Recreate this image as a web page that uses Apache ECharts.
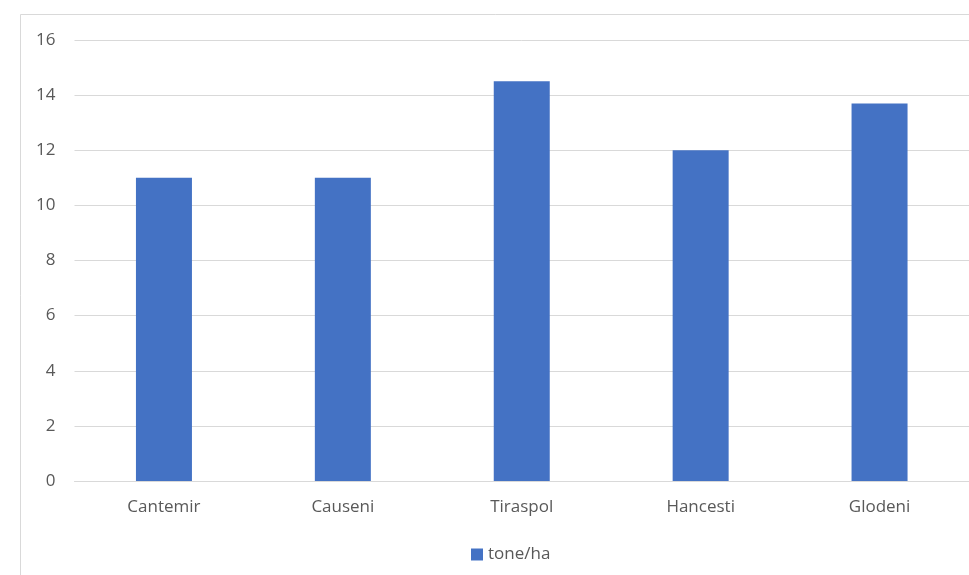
<!DOCTYPE html>
<html>
<head>
<meta charset="utf-8">
<script src="https://cdn.jsdelivr.net/npm/echarts@6/dist/echarts.min.js"></script>
<style>
html,body{margin:0;padding:0;background:#fff;}
#chart{width:969px;height:575px;}
</style>
</head>
<body>
<div id="chart"></div>
<script>
const categories = ["Cantemir", "Causeni", "Tiraspol", "Hancesti", "Glodeni"];
const seriesName = "tone/ha";
const values = [11, 11, 14.5, 12, 13.7];

const chart = echarts.init(document.getElementById('chart'), null, {renderer: 'canvas'});
const textStyle = {fontFamily: 'Open Sans', fontSize: 17, color: '#595959'};
chart.setOption({
  animation: false,
  backgroundColor: '#fff',
  graphic: [{
    type: 'rect',
    shape: {x: 20.5, y: 14.5, width: 1000, height: 600},
    style: {fill: 'none', stroke: '#d9d9d9', lineWidth: 1},
    silent: true, z: -1
  }],
  grid: {left: 74.5, top: 40, width: 898, height: 441, containLabel: false},
  legend: {
    left: 471, top: 546, padding: 0,
    itemWidth: 12, itemHeight: 12, itemGap: 10,
    icon: 'rect',
    textStyle: Object.assign({}, textStyle),
    data: [seriesName]
  },
  xAxis: {
    type: 'category',
    data: categories,
    axisLine: {show: true, lineStyle: {color: '#d9d9d9', width: 1}},
    axisTick: {show: false},
    axisLabel: Object.assign({}, textStyle, {margin: 18})
  },
  yAxis: {
    type: 'value',
    min: 0, max: 16, interval: 2,
    axisLine: {show: false},
    axisTick: {show: false},
    splitLine: {lineStyle: {color: '#d9d9d9', width: 1}},
    axisLabel: Object.assign({}, textStyle, {margin: 19})
  },
  series: [{
    name: seriesName,
    type: 'bar',
    data: values,
    barWidth: 56,
    itemStyle: {color: '#4472c4'}
  }]
});
</script>
</body>
</html>
